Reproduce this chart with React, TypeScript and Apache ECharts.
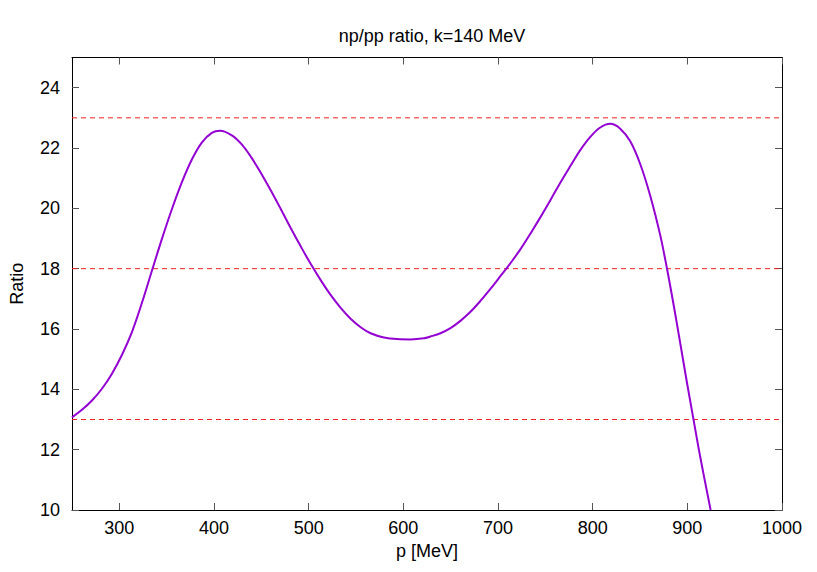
import React, { useEffect, useRef } from "react";
import * as echarts from "echarts";

const pValues = [
  250, 260.5, 271.1, 281.6, 292.2, 302.7, 313.3, 323.8, 334.4, 344.9, 355.5, 366, 376.6, 387.1, 397.7, 406.4, 418.8, 429.3, 439.4,
  449.4, 459.9, 470.5, 481, 491.6, 502.1, 512.7, 523.2, 533.8, 544.3, 554.9, 565.4, 579.5, 593.6, 607.6, 621.6,
  628.7, 639.2, 649.8, 660.3, 670.9, 681.4, 692, 702.5, 713.1, 723.6, 734.2, 744.7, 755.3, 765.8, 776.4, 786.9, 797.5, 808, 818.6,
  829.1, 839.7, 850.2, 860.8, 871.3, 878.4, 885.4, 892.4, 899.4, 906.4, 913.5, 924.6,
];
const ratioValues = [
  13.07, 13.32, 13.63, 14.02, 14.52, 15.14, 15.9, 16.86, 17.93, 18.98, 19.97, 20.86, 21.62, 22.18, 22.5, 22.57, 22.42, 22.12, 21.69,
  21.18, 20.6, 19.98, 19.35, 18.74, 18.16, 17.62, 17.13, 16.7, 16.34, 16.06, 15.86, 15.72, 15.665, 15.655, 15.69,
  15.75, 15.86, 16.03, 16.27, 16.57, 16.93, 17.33, 17.75, 18.18, 18.64, 19.16, 19.7, 20.27, 20.85, 21.4, 21.93, 22.37, 22.68, 22.8,
  22.64, 22.22, 21.47, 20.42, 19.12, 18.02, 16.82, 15.55, 14.26, 13.02, 11.78, 10.0,
];
const thresholds = [13, 18, 23];
const xTicks = [300, 400, 500, 600, 700, 800, 900, 1000];
const yTicks = [10, 12, 14, 16, 18, 20, 22, 24];

const FONT = "'Liberation Sans', Arial, sans-serif";

export default function App() {
  const ref = useRef<HTMLDivElement>(null);
  useEffect(() => {
    if (!ref.current) return;
    const chart = echarts.init(ref.current, undefined, { renderer: "svg" });
    const tickStyle = { color: "#555", width: 1 };
    const axisLineStyle = { color: "#000", width: 1 };
    const fmt = (v: number) => String(v);
    chart.setOption({
      animation: false,
      backgroundColor: "#fff",
      textStyle: { fontFamily: FONT },
      title: {
        text: "np/pp ratio, k=140 MeV",
        left: 427,
        textAlign: "center",
        top: 22,
        textStyle: { fontFamily: FONT, fontSize: 18, fontWeight: "normal", color: "#000" },
      },
      grid: { left: 71, right: 35, top: 57.5, bottom: 62, containLabel: false },
      xAxis: [
        {
          type: "value",
          min: 250,
          max: 1000,
          position: "bottom",
          name: "p [MeV]",
          nameLocation: "middle",
          nameGap: 30,
          nameTextStyle: { fontFamily: FONT, fontSize: 18, color: "#000" },
          axisLine: { show: true, onZero: false, lineStyle: axisLineStyle },
          axisTick: { show: true, inside: true, length: 7, lineStyle: tickStyle, customValues: xTicks },
          axisLabel: { fontFamily: FONT, fontSize: 18, color: "#000", margin: 9, customValues: xTicks, formatter: fmt },
          splitLine: { show: false },
        },
        {
          type: "value",
          min: 250,
          max: 1000,
          position: "top",
          axisLine: { show: true, onZero: false, lineStyle: axisLineStyle },
          axisTick: { show: true, inside: true, length: 7, lineStyle: tickStyle, customValues: xTicks },
          axisLabel: { show: false },
          splitLine: { show: false },
        },
      ],
      yAxis: [
        {
          type: "value",
          min: 10,
          max: 25,
          position: "left",
          name: "Ratio",
          nameLocation: "middle",
          nameGap: 46,
          nameRotate: 90,
          nameTextStyle: { fontFamily: FONT, fontSize: 18, color: "#000" },
          axisLine: { show: true, onZero: false, lineStyle: axisLineStyle },
          axisTick: { show: true, inside: true, length: 7, lineStyle: tickStyle, customValues: yTicks },
          axisLabel: { fontFamily: FONT, fontSize: 18, color: "#000", margin: 12, customValues: yTicks, formatter: fmt },
          splitLine: { show: false },
        },
        {
          type: "value",
          min: 10,
          max: 25,
          position: "right",
          axisLine: { show: true, onZero: false, lineStyle: axisLineStyle },
          axisTick: { show: true, inside: true, length: 7, lineStyle: tickStyle, customValues: yTicks },
          axisLabel: { show: false },
          splitLine: { show: false },
        },
      ],
      series: [
        ...thresholds.map((t) => ({
          type: "line",
          xAxisIndex: 0,
          yAxisIndex: 0,
          data: [
            [250, t],
            [1000, t],
          ],
          showSymbol: false,
          silent: true,
          lineStyle: { color: "#f02020", width: 1, type: [5, 4] },
        })),
        {
          type: "line",
          xAxisIndex: 0,
          yAxisIndex: 0,
          data: pValues.map((p, i) => [p, ratioValues[i]]),
          smooth: 0.35,
          showSymbol: false,
          clip: true,
          lineStyle: { color: "#9400d3", width: 2 },
        },
      ],
    });
    return () => chart.dispose();
  }, []);
  return (
    <div
      ref={ref}
      style={{ position: "fixed", left: 0, top: 0, width: 817, height: 572, background: "#fff" }}
    />
  );
}
